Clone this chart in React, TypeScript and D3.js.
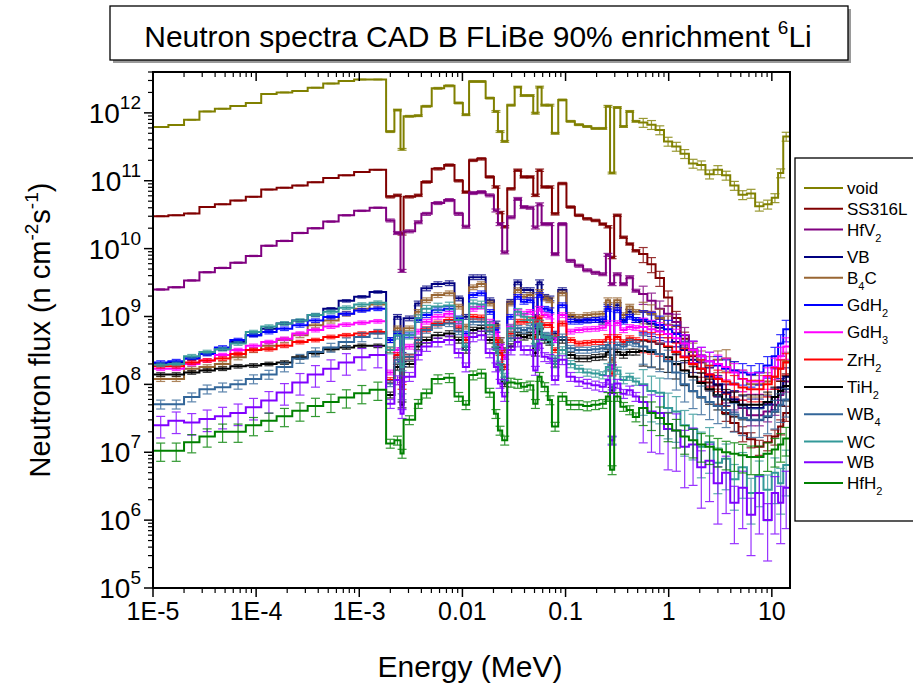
import React from "react";
import * as d3 from "d3";

const W = 913;
const H = 689;

// Energy group edges (MeV)
const EDGES = [
  1.0e-5, 1.41e-5, 2.0e-5, 2.82e-5, 3.98e-5, 5.62e-5, 7.94e-5, 1.12e-4, 1.58e-4, 2.24e-4,
  3.16e-4, 4.47e-4, 6.31e-4, 8.91e-4, 1.26e-3, 1.82e-3,
  2.19e-3, 2.51e-3, 2.69e-3, 3.48e-3, 4.0e-3, 5.04e-3, 6.65e-3, 8.38e-3, 1.01e-2, 1.16e-2,
  1.39e-2, 1.68e-2, 2.02e-2, 2.21e-2, 2.43e-2, 2.72e-2, 3.21e-2, 3.69e-2, 4.24e-2, 4.86e-2,
  5.35e-2, 5.86e-2, 6.73e-2, 7.38e-2, 8.49e-2, 0.102, 0.123, 0.148, 0.178, 0.214,
  0.246, 0.27, 0.296, 0.34, 0.391, 0.449, 0.516, 0.621, 0.746, 0.9,
  1.08, 1.3, 1.57, 1.89, 2.27, 2.73, 3.29, 3.95, 4.75, 5.73,
  6.89, 8.3, 9.98, 11.5, 12.9, 14.7,
];

const VOID = [
  6.2e11, 6.6e11, 7.9e11, 1.05e12, 1.15e12, 1.26e12, 1.4e12, 1.9e12, 2.0e12, 2.1e12, 2.35e12, 2.7e12, 2.95e12, 3.1e12, 3.1e12,
  5.3e11, 1.1e12, 2.9e11, 8.9e11, 9.1e11, 1.25e12, 2.3e12, 2.5e12, 1.4e12, 9.4e11,
  2.9e12, 2.9e12, 1.65e12, 1.05e12, 5.3e11, 3.8e11, 1.3e12, 2.4e12, 1.8e12, 1.8e12,
  9.9e11, 2.4e12, 1.3e12, 1.3e12, 5.0e11, 1.55e12, 7.5e11, 6.7e11, 6.3e11, 5.9e11,
  5.9e11, 1.25e12, 1.3e11, 1.2e12, 6.3e11, 1.05e12, 7.5e11, 7.2e11, 6.7e11, 5.6e11,
  3.8e11, 3.2e11, 2.5e11, 1.8e11, 1.7e11, 1.25e11, 1.45e11, 1.2e11, 8.5e10, 6.2e10,
  6.5e10, 4.2e10, 4.5e10, 5.6e10, 1.3e11, 4.5e11,
];
const SS316L = [
  3.0e10, 3.1e10, 3.3e10, 4.1e10, 4.5e10, 5.1e10, 5.8e10, 7.4e10, 7.9e10, 8.5e10, 9.5e10, 1.1e11, 1.2e11, 1.35e11, 1.45e11,
  5.8e10, 6.1e10, 1.65e10, 5.8e10, 6.1e10, 9.6e10, 1.5e11, 1.7e11, 1.0e11, 6.8e10,
  2.0e11, 2.1e11, 1.14e11, 8.1e10, 3.4e10, 2.1e10, 7.6e10, 1.43e11, 1.14e11, 1.14e11,
  6.1e10, 1.43e11, 8.1e10, 8.1e10, 3.25e10, 9.1e10, 4.1e10, 3.1e10, 2.75e10, 2.6e10,
  2.3e10, 2.1e10, 7.4e9, 3.1e10, 1.47e10, 1.17e10, 9.3e9, 8.3e9, 5.9e9, 3.7e9,
  1.9e9, 9.5e8, 4.7e8, 2.6e8, 1.7e8, 1.07e8, 6.8e7, 3.8e7, 2.7e7, 1.9e7,
  1.55e7, 1.2e7, 1.4e7, 1.7e7, 2.4e7, 3.8e7,
];
const HFV2 = [
  2.5e9, 2.7e9, 3.4e9, 4.5e9, 5.2e9, 6.2e9, 7.8e9, 1.1e10, 1.3e10, 1.7e10, 2.0e10, 2.5e10, 3.1e10, 3.6e10, 4.0e10,
  2.6e10, 1.7e10, 4.7e9, 1.8e10, 2.45e10, 3.25e10, 4.7e10, 5.2e10, 3.25e10, 2.1e10,
  6.6e10, 6.8e10, 6.1e10, 3.65e10, 2.3e10, 8.8e9, 2.9e10, 5.4e10, 4.1e10, 4.0e10,
  2.05e10, 4.5e10, 2.3e10, 2.3e10, 8.3e9, 2.3e10, 6.6e9, 5.6e9, 4.8e9, 4.4e9,
  4.2e9, 8.1e9, 3.0e9, 4.2e9, 3.0e9, 3.8e9, 2.4e9, 2.15e9, 1.7e9, 1.3e9,
  1.1e9, 8.3e8, 5.3e8, 3.3e8, 2.1e8, 1.35e8, 9.6e7, 7.6e7, 6.0e7, 4.5e7,
  3.5e7, 3.5e7, 4.0e7, 5.0e7, 7.0e7, 1.1e8,
];
const VB = [
  2.0e8, 2.1e8, 2.4e8, 2.8e8, 3.3e8, 4.2e8, 5.3e8, 6.6e8, 7.9e8, 8.7e8, 1.05e9, 1.3e9, 1.7e9, 1.95e9, 2.3e9,
  4.5e8, 9.9e8, 3.2e8, 9.4e8, 1.56e9, 2.6e9, 3.0e9, 3.1e9, 1.85e9, 9.9e8,
  3.8e9, 3.8e9, 1.74e9, 7.9e8, 4.5e8, 3.2e8, 1.65e9, 3.2e9, 2.45e9, 2.45e9,
  9.9e8, 3.2e9, 1.95e9, 1.85e9, 5.6e8, 2.45e9, 9.9e8, 8.9e8, 8.9e8, 8.9e8,
  8.4e8, 1.4e9, 1.8e8, 1.47e9, 8.9e8, 1.17e9, 8.9e8, 8.5e8, 7.8e8, 6.8e8,
  5.5e8, 4.2e8, 3.2e8, 2.3e8, 1.7e8, 1.3e8, 1.0e8, 7.5e7, 6.0e7, 5.0e7,
  4.5e7, 4.5e7, 5.0e7, 6.5e7, 9.0e7, 1.3e8,
];
const B4C = [
  1.2e8, 1.2e8, 1.7e8, 1.8e8, 2.0e8, 2.5e8, 3.2e8, 3.7e8, 4.5e8, 5.3e8, 7.4e8, 8.7e8, 1.1e9, 1.3e9, 1.5e9,
  3.2e8, 6.7e8, 2.3e8, 6.7e8, 1.17e9, 1.74e9, 2.07e9, 2.2e9, 1.4e9, 7.1e8,
  2.7e9, 3.0e9, 1.56e9, 7.1e8, 4.5e8, 3.2e8, 1.56e9, 2.45e9, 1.95e9, 2.07e9,
  8.4e8, 2.3e9, 1.85e9, 1.74e9, 5.0e8, 2.2e9, 1.05e9, 9.9e8, 1.05e9, 1.08e9,
  1.1e9, 1.74e9, 2.3e8, 1.74e9, 1.05e9, 1.4e9, 1.17e9, 1.2e9, 1.1e9, 9.5e8,
  7.5e8, 5.5e8, 4.0e8, 3.0e8, 2.3e8, 1.9e8, 2.3e8, 2.4e8, 1.6e8, 1.2e8,
  1.0e8, 1.0e8, 1.1e8, 1.3e8, 1.7e8, 2.2e8,
];
const GDH2 = [
  2.1e8, 2.2e8, 2.4e8, 2.8e8, 3.5e8, 4.5e8, 5.3e8, 5.9e8, 6.6e8, 7.4e8, 8.7e8, 9.8e8, 1.1e9, 1.23e9, 1.3e9,
  4.5e8, 5.6e8, 2.0e8, 5.3e8, 8.9e8, 1.05e9, 1.24e9, 1.3e9, 9.4e8, 5.6e8,
  2.07e9, 2.2e9, 1.17e9, 6.3e8, 3.6e8, 2.55e8, 9.9e8, 1.95e9, 1.65e9, 1.74e9,
  7.1e8, 2.07e9, 1.3e9, 1.24e9, 4.5e8, 1.47e9, 8.4e8, 8.4e8, 8.7e8, 8.9e8,
  9.1e8, 1.3e9, 1.8e8, 1.24e9, 8.4e8, 9.9e8, 8.9e8, 9.0e8, 8.5e8, 7.5e8,
  6.5e8, 5.5e8, 4.0e8, 3.2e8, 2.6e8, 2.2e8, 1.9e8, 1.7e8, 1.6e8, 1.5e8,
  1.4e8, 1.5e8, 1.9e8, 2.6e8, 4.0e8, 6.5e8,
];
const GDH3 = [
  1.7e8, 1.7e8, 2.0e8, 2.25e8, 2.7e8, 3.2e8, 3.7e8, 4.2e8, 4.7e8, 5.6e8, 6.3e8, 7.1e8, 7.6e8, 8.1e8, 8.5e8,
  1.5e8, 3.2e8, 1.16e8, 3.6e8, 6.0e8, 8.4e8, 9.9e8, 1.1e9, 7.9e8, 5.0e8,
  1.3e9, 1.4e9, 8.4e8, 5.6e8, 3.6e8, 2.55e8, 7.1e8, 1.17e9, 1.1e9, 1.17e9,
  6.0e8, 1.3e9, 1.05e9, 1.0e9, 4.5e8, 1.05e9, 6.0e8, 6.3e8, 6.5e8, 6.6e8,
  6.8e8, 8.0e8, 1.8e8, 8.0e8, 6.3e8, 7.0e8, 6.8e8, 7.0e8, 6.5e8, 6.0e8,
  5.5e8, 4.8e8, 4.0e8, 3.2e8, 2.6e8, 2.2e8, 2.0e8, 1.8e8, 1.5e8, 1.2e8,
  1.1e8, 1.1e8, 1.3e8, 1.8e8, 2.6e8, 3.6e8,
];
const ZRH2 = [
  1.85e8, 1.85e8, 2.1e8, 2.25e8, 2.4e8, 2.8e8, 3.2e8, 3.3e8, 3.7e8, 4.2e8, 4.5e8, 5.0e8, 5.3e8, 5.6e8, 5.9e8,
  1.16e8, 2.7e8, 9.2e7, 2.55e8, 4.5e8, 6.5e8, 7.9e8, 8.9e8, 6.7e8, 4.5e8,
  9.9e8, 9.7e8, 6.7e8, 4.5e8, 2.9e8, 1.8e8, 5.6e8, 8.4e8, 8.4e8, 8.9e8,
  5.0e8, 9.4e8, 7.5e8, 7.5e8, 3.2e8, 7.9e8, 4.5e8, 4.0e8, 4.1e8, 4.2e8,
  4.2e8, 5.0e8, 1.45e8, 5.0e8, 4.2e8, 4.8e8, 4.5e8, 4.5e8, 4.3e8, 4.0e8,
  3.6e8, 3.0e8, 2.5e8, 2.0e8, 1.7e8, 1.4e8, 1.2e8, 1.1e8, 1.0e8, 9.0e7,
  8.5e7, 8.5e7, 1.0e8, 1.3e8, 1.7e8, 2.1e8,
];
const TIH2 = [
  1.4e8, 1.4e8, 1.5e8, 1.6e8, 1.7e8, 1.85e8, 1.9e8, 2.0e8, 2.1e8, 2.5e8, 2.9e8, 3.3e8, 3.5e8, 3.7e8, 3.7e8,
  7.0e7, 1.8e8, 5.0e7, 2.0e8, 3.6e8, 4.5e8, 5.3e8, 5.6e8, 4.5e8, 3.2e8,
  6.3e8, 6.7e8, 4.5e8, 3.2e8, 1.8e8, 1.03e8, 3.6e8, 5.3e8, 5.0e8, 5.3e8,
  2.9e8, 6.0e8, 4.5e8, 4.2e8, 2.0e8, 4.5e8, 2.7e8, 2.4e8, 2.4e8, 2.5e8,
  2.55e8, 3.0e8, 8.2e7, 3.0e8, 2.7e8, 3.0e8, 3.0e8, 3.1e8, 3.0e8, 2.8e8,
  2.5e8, 2.0e8, 1.6e8, 1.3e8, 1.05e8, 8.5e7, 7.0e7, 6.0e7, 5.5e7, 5.0e7,
  5.0e7, 5.0e7, 5.5e7, 6.5e7, 8.0e7, 9.5e7,
];
const WB4 = [
  5.1e7, 5.1e7, 6.5e7, 8.5e7, 9.1e7, 1.0e8, 1.2e8, 1.4e8, 1.8e8, 2.4e8, 3.0e8, 3.5e8, 4.2e8, 5.0e8, 5.6e8,
  1.03e8, 2.3e8, 6.6e7, 2.55e8, 4.5e8, 6.3e8, 7.5e8, 7.9e8, 6.0e8, 3.6e8,
  8.4e8, 8.4e8, 6.0e8, 3.6e8, 2.0e8, 1.16e8, 4.8e8, 6.7e8, 6.3e8, 6.7e8,
  3.6e8, 7.1e8, 5.3e8, 5.2e8, 2.4e8, 5.0e8, 3.4e8, 3.2e8, 3.2e8, 3.3e8,
  3.4e8, 3.8e8, 9.2e7, 3.8e8, 3.6e8, 4.2e8, 4.0e8, 3.6e8, 3.2e8, 2.8e8,
  2.2e8, 1.5e8, 1.0e8, 8.0e7, 6.5e7, 5.5e7, 4.8e7, 4.2e7, 3.6e7, 3.2e7,
  3.0e7, 3.0e7, 3.4e7, 4.0e7, 5.0e7, 6.0e7,
];
const WC = [
  1.95e8, 2.0e8, 2.6e8, 3.0e8, 3.3e8, 4.0e8, 5.9e8, 7.1e8, 7.9e8, 8.7e8, 1.05e9, 1.17e9, 1.35e9, 1.5e9, 1.6e9,
  3.2e8, 5.3e8, 1.8e8, 5.3e8, 9.4e8, 1.3e9, 1.4e9, 1.45e9, 8.9e8, 3.6e8,
  1.56e9, 1.5e9, 7.5e8, 3.2e8, 1.8e8, 1.3e8, 6.7e8, 1.17e9, 9.9e8, 8.9e8,
  3.6e8, 7.9e8, 5.0e8, 4.5e8, 2.0e8, 3.2e8, 2.0e8, 1.7e8, 1.5e8, 1.45e8,
  1.37e8, 1.8e8, 1.5e7, 1.6e8, 1.16e8, 1.3e8, 1.1e8, 1.0e8, 8.0e7, 7.5e7,
  4.5e7, 4.0e7, 2.5e7, 2.2e7, 1.2e7, 1.4e7, 7.0e6, 8.0e6, 4.0e6, 6.0e6,
  2.5e6, 4.5e6, 2.8e6, 5.0e6, 3.5e6, 6.5e6,
];
const WB = [
  2.5e7, 2.9e7, 2.75e7, 3.1e7, 3.4e7, 3.8e7, 4.6e7, 5.8e7, 7.6e7, 1.07e8, 1.4e8, 1.7e8, 2.1e8, 2.5e8, 2.7e8,
  5.2e7, 1.16e8, 3.7e7, 1.3e8, 2.7e8, 3.6e8, 4.2e8, 4.5e8, 2.9e8, 1.8e8,
  5.0e8, 5.3e8, 2.9e8, 1.8e8, 1.03e8, 6.6e7, 3.2e8, 4.2e8, 3.2e8, 3.2e8,
  1.6e8, 4.0e8, 2.55e8, 2.4e8, 1.16e8, 2.3e8, 1.3e8, 1.1e8, 1.03e8, 9.7e7,
  9.2e7, 1.16e8, 1.5e7, 1.03e8, 7.3e7, 8.2e7, 6.6e7, 5.5e7, 4.0e7, 3.8e7,
  2.2e7, 2.1e7, 1.2e7, 1.3e7, 6.0e6, 7.5e6, 3.5e6, 5.0e6, 1.8e6, 3.0e6,
  1.2e6, 2.5e6, 1.0e6, 2.5e6, 1.8e6, 3.0e6,
];
const HFH2 = [
  1.05e7, 1.05e7, 1.4e7, 1.7e7, 2.0e7, 2.0e7, 2.5e7, 2.9e7, 3.4e7, 4.1e7, 4.8e7, 5.5e7, 6.4e7, 7.4e7, 8.3e7,
  1.35e7, 1.5e7, 9.6e6, 3.0e7, 5.2e7, 7.4e7, 1.2e8, 1.25e8, 6.6e7, 5.0e7,
  1.37e8, 1.45e8, 7.6e7, 3.7e7, 2.1e7, 1.5e7, 1.07e8, 1.03e8, 9.2e7, 9.7e7,
  5.2e7, 1.3e8, 9.2e7, 5.9e7, 2.4e7, 6.6e7, 5.0e7, 5.0e7, 4.8e7, 5.0e7,
  5.2e7, 6.6e7, 5.5e6, 6.6e7, 4.7e7, 4.2e7, 3.3e7, 4.5e7, 3.8e7, 3.2e7,
  2.6e7, 2.1e7, 1.7e7, 1.5e7, 1.3e7, 1.2e7, 1.1e7, 1.0e7, 9.5e6, 9.0e6,
  8.5e6, 8.5e6, 9.5e6, 1.1e7, 1.3e7, 1.6e7,
];

// Relative statistical error per energy region [thermal, resonance, fast]
const REL_ERR = [
  [0.01, 0.03, 0.15],
  [0.01, 0.04, 0.25],
  [0.02, 0.05, 0.3],
  [0.04, 0.08, 0.35],
  [0.08, 0.08, 0.35],
  [0.06, 0.08, 0.35],
  [0.06, 0.08, 0.35],
  [0.06, 0.08, 0.35],
  [0.06, 0.1, 0.4],
  [0.15, 0.1, 0.45],
  [0.06, 0.12, 0.65],
  [0.35, 0.15, 0.75],
  [0.3, 0.15, 0.45],
];

const NAMES = ["void", "SS316L", "HfV_2", "VB", "B_4C", "GdH_2", "GdH_3", "ZrH_2", "TiH_2", "WB_4", "WC", "WB", "HfH_2"];
const COLORS = ["#808000", "#800000", "#800080", "#000080", "#996633", "#0000FF", "#FF00FF", "#FF0000", "#000000", "#336699", "#339999", "#8000FF", "#008000"];
const VALUES = [VOID, SS316L, HFV2, VB, B4C, GDH2, GDH3, ZRH2, TIH2, WB4, WC, WB, HFH2];

const X_TICKS = [1e-5, 1e-4, 1e-3, 0.01, 0.1, 1, 10];
const X_TICK_LABELS = ["1E-5", "1E-4", "1E-3", "0.01", "0.1", "1", "10"];
const Y_TICK_EXPS = [5, 6, 7, 8, 9, 10, 11, 12];

const FONT = "Arial, 'Liberation Sans', Helvetica, sans-serif";

const PL = 153, PR = 790, PT = 72, PB = 588;

const x = d3.scaleLog().domain([1e-5, 15]).range([PL, PR]);
const y = d3.scaleLog().domain([1e5, 4e12]).range([PB, PT]);

function regionOf(i: number) {
  if (i < 15) return 0;
  if (i < 52) return 1;
  return 2;
}

function renderSub(label: string) {
  const parts = label.split("_");
  const out: any[] = [<tspan key="p0">{parts[0]}</tspan>];
  for (let k = 1; k < parts.length; k++) {
    out.push(
      <tspan key={"s" + k} dy={6} fontSize={11}>
        {parts[k][0]}
      </tspan>
    );
    const rest = parts[k].slice(1);
    if (rest) {
      out.push(
        <tspan key={"r" + k} dy={-6}>
          {rest}
        </tspan>
      );
    }
  }
  return out;
}

export default function App() {
  const line = d3
    .line<[number, number]>()
    .x((d) => x(d[0]))
    .y((d) => y(d[1]))
    .curve(d3.curveStepAfter);

  const minorX: number[] = [];
  for (let d = -5; d <= 1; d++) {
    for (let k = 2; k <= 9; k++) {
      const v = k * Math.pow(10, d);
      if (v <= 15) minorX.push(v);
    }
  }
  const minorY: number[] = [];
  for (let d = 5; d <= 12; d++) {
    for (let k = 2; k <= 9; k++) {
      const v = k * Math.pow(10, d);
      if (v <= 4e12) minorY.push(v);
    }
  }

  let ly = 188;
  const legendRows = NAMES.map((n, i) => {
    const row = { name: n, color: COLORS[i], y: ly };
    ly += n.includes("_") ? 27.3 : 20.8;
    return row;
  });

  return (
    <svg width={W} height={H} style={{ display: "block", position: "absolute", left: 0, top: 0 }} fontFamily={FONT}>
      <rect x={0} y={0} width={W} height={H} fill="#fff" />
      <defs>
        <clipPath id="plotclip">
          <rect x={PL} y={PT} width={PR - PL} height={PB - PT} />
        </clipPath>
      </defs>

      {/* Title */}
      <rect x={113} y={9} width={738} height={54} fill="#9a9a9a" />
      <rect x={110} y={6} width={738} height={54} fill="#fff" stroke="#000" strokeWidth={1.3} />
      <text x={478} y={47} textAnchor="middle" fontSize={30} fill="#000">
        Neutron spectra CAD B FLiBe 90% enrichment <tspan dy={-13} fontSize={19}>6</tspan>
        <tspan dy={13}>Li</tspan>
      </text>

      {/* Series */}
      <g clipPath="url(#plotclip)">
        {VALUES.map((vals, si) => {
          const pts: [number, number][] = vals.map((v, i) => [EDGES[i], v] as [number, number]);
          pts.push([EDGES[vals.length], vals[vals.length - 1]]);
          const col = COLORS[si];
          return (
            <g key={si}>
              <g stroke={col} strokeWidth={1.2} opacity={0.8}>
                {vals.map((v, i) => {
                  const e = REL_ERR[si][regionOf(i)];
                  const cx = x(Math.sqrt(EDGES[i] * EDGES[i + 1]));
                  const y1 = y(v * (1 + e));
                  const y2 = y(Math.max(v * (1 - e), 1e4));
                  return (
                    <g key={i}>
                      <line x1={cx} x2={cx} y1={y1} y2={y2} />
                      <line x1={cx - 4.5} x2={cx + 4.5} y1={y1} y2={y1} />
                      <line x1={cx - 4.5} x2={cx + 4.5} y1={y2} y2={y2} />
                    </g>
                  );
                })}
              </g>
              <path d={line(pts) || ""} fill="none" stroke={col} strokeWidth={2} />
            </g>
          );
        })}
      </g>

      {/* Frame */}
      <rect x={PL} y={PT} width={PR - PL} height={PB - PT} fill="none" stroke="#000" strokeWidth={2} />

      {/* X ticks */}
      {X_TICKS.map((t) => (
        <g key={"xt" + t}>
          <line x1={x(t)} x2={x(t)} y1={PB} y2={PB + 9} stroke="#000" strokeWidth={1.5} />
          <line x1={x(t)} x2={x(t)} y1={PT} y2={PT + 9} stroke="#000" strokeWidth={1.5} />
        </g>
      ))}
      {minorX.map((t) => (
        <g key={"xm" + t}>
          <line x1={x(t)} x2={x(t)} y1={PB} y2={PB + 5} stroke="#000" strokeWidth={1.2} />
          <line x1={x(t)} x2={x(t)} y1={PT} y2={PT + 5} stroke="#000" strokeWidth={1.2} />
        </g>
      ))}
      {X_TICKS.map((t, i) => (
        <text key={"xl" + t} x={x(t)} y={620} textAnchor="middle" fontSize={25} fill="#000">
          {X_TICK_LABELS[i]}
        </text>
      ))}

      {/* Y ticks */}
      {Y_TICK_EXPS.map((e) => {
        const yy = y(Math.pow(10, e));
        return (
          <g key={"yt" + e}>
            <line x1={PL - 9} x2={PL} y1={yy} y2={yy} stroke="#000" strokeWidth={1.5} />
            <text x={141} y={yy + 10} textAnchor="end" fontSize={28} fill="#000">
              10<tspan dy={-14} fontSize={19}>{e}</tspan>
            </text>
          </g>
        );
      })}
      {minorY.map((t) => (
        <line key={"ym" + t} x1={PL - 5} x2={PL} y1={y(t)} y2={y(t)} stroke="#000" strokeWidth={1.2} />
      ))}

      {/* Axis titles */}
      <text x={470} y={677} textAnchor="middle" fontSize={30} fill="#000">
        Energy (MeV)
      </text>
      <text transform="translate(50,330) rotate(-90)" textAnchor="middle" fontSize={29} fill="#000">
        Neutron flux (n cm<tspan dy={-12} fontSize={19}>-2</tspan>
        <tspan dy={12}>s</tspan>
        <tspan dy={-12} fontSize={19}>-1</tspan>
        <tspan dy={12}>)</tspan>
      </text>

      {/* Legend */}
      <rect x={795} y={158} width={140} height={363} fill="#fff" stroke="#000" strokeWidth={1.3} />
      {legendRows.map((r) => (
        <g key={r.name}>
          <line x1={804} x2={843} y1={r.y} y2={r.y} stroke={r.color} strokeWidth={2} />
          <text x={847} y={r.y + 6} fontSize={17} fill="#000">
            {renderSub(r.name)}
          </text>
        </g>
      ))}
    </svg>
  );
}
